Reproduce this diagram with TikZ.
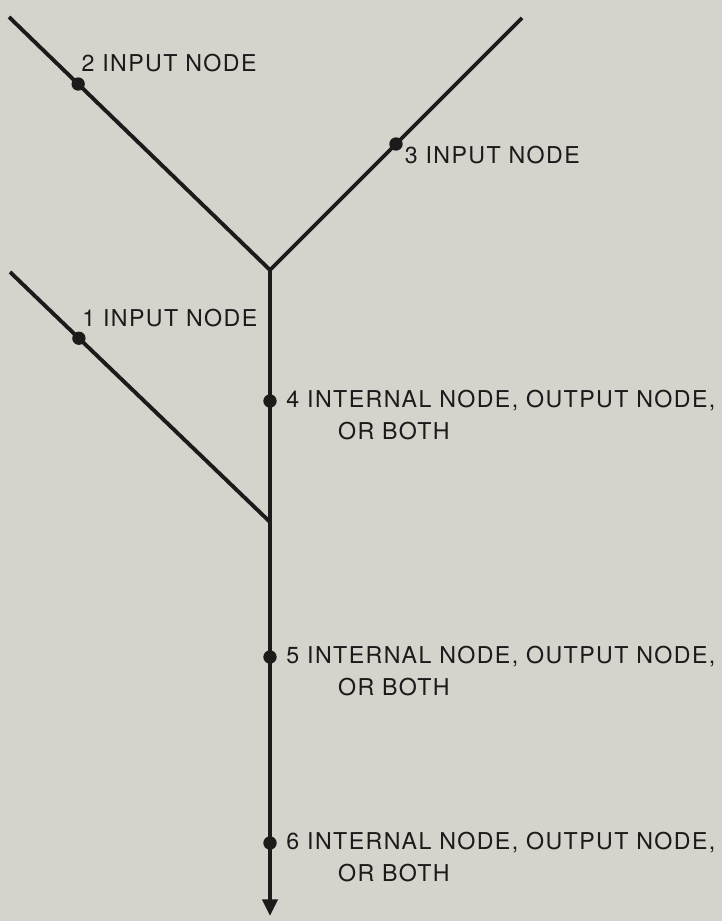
\documentclass[tikz,border=0pt]{standalone}
\usepackage{fontspec}
\setmainfont{TeX Gyre Heros}[LetterSpace=6]
\usetikzlibrary{positioning, arrows.meta, calc}
\definecolor{paper}{RGB}{214,211,204}
\definecolor{ink}{RGB}{28,26,26}

\begin{document}
\begin{tikzpicture}[
    wire/.style={draw=ink, line width=3.3pt},
    dot/.style={circle, fill=ink, inner sep=0pt, minimum size=0.4cm},
    lbl/.style={inner sep=0pt, text=ink, font=\fontsize{19.8}{23}\selectfont}
]
    % Page
    \fill[paper] (0,0) rectangle (21.66,-27.63);
    \useasboundingbox (0,0) rectangle (21.66,-27.63);

    % Ends and joins
    \coordinate (e2) at (0.27,-0.51);
    \coordinate (e3) at (15.66,-0.54);
    \coordinate (e1) at (0.30,-8.16);
    \coordinate (j1) at (8.10,-8.10);
    \coordinate (j2) at (8.10,-15.66);
    \coordinate (out) at (8.10,-27.48);

    % Branches
    \draw[wire] (e2) -- (j1) -- (e3);
    \draw[wire] (e1) -- (j2);
    \draw[wire, -{Triangle[width=0.45cm, length=0.5cm]}] (j1) -- (out);

    % Input nodes
    \node[dot] (d2) at ($(e2)!0.265!(j1)$) {};
    \node[lbl] (t2) [above right=0.22cm and -0.05cm of d2] {2 INPUT NODE};

    \node[dot] (d3) at ($(e3)!0.5!(j1)$) {};
    \node[lbl] (t3) [right=0.05cm of d3, yshift=-0.33cm] {3 INPUT NODE};

    \node[dot] (d1) at ($(e1)!0.265!(j2)$) {};
    \node[lbl] (t1) [above right=0.18cm and -0.05cm of d1] {1 INPUT NODE};

    % Internal / output nodes
    \node[dot] (d4) at (8.10,-12.03) {};
    \node[lbl] (t4) [right=0.28cm of d4] {4 INTERNAL NODE, OUTPUT NODE,};
    \node[lbl, anchor=north west] (t4b) at ([xshift=1.55cm, yshift=-0.3cm]t4.south west) {OR BOTH};

    \node[dot] (d5) at (8.10,-19.71) {};
    \node[lbl] (t5) [right=0.28cm of d5] {5 INTERNAL NODE, OUTPUT NODE,};
    \node[lbl, anchor=north west] (t5b) at ([xshift=1.55cm, yshift=-0.3cm]t5.south west) {OR BOTH};

    \node[dot] (d6) at (8.10,-25.29) {};
    \node[lbl] (t6) [right=0.28cm of d6] {6 INTERNAL NODE, OUTPUT NODE,};
    \node[lbl, anchor=north west] (t6b) at ([xshift=1.55cm, yshift=-0.3cm]t6.south west) {OR BOTH};

\end{tikzpicture}
\end{document}
